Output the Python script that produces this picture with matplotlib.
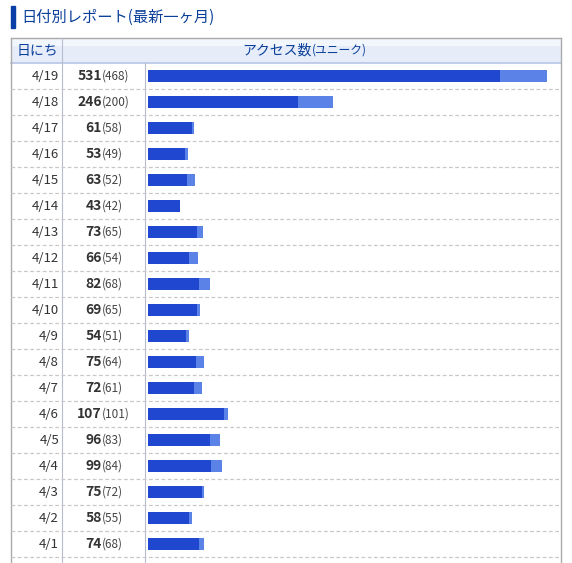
import matplotlib
matplotlib.use("Agg")
import matplotlib.pyplot as plt
from matplotlib.patches import Rectangle

plt.rcParams['font.family'] = ['Noto Sans CJK JP', 'DejaVu Sans']

dates = ["4/19","4/18","4/17","4/16","4/15","4/14","4/13","4/12","4/11","4/10",
         "4/9","4/8","4/7","4/6","4/5","4/4","4/3","4/2","4/1"]
total = [531,246,61,53,63,43,73,66,82,69,54,75,72,107,96,99,75,58,74]
unique = [468,200,58,49,52,42,65,54,68,65,51,64,61,101,83,84,72,55,68]

W, H = 572, 563
fig = plt.figure(figsize=(W/100, H/100), dpi=100)
ax = fig.add_axes([0, 0, 1, 1])
ax.set_xlim(0, W); ax.set_ylim(H, 0); ax.axis('off')

# title
ax.add_patch(Rectangle((11, 6), 4, 22, color='#0a3fa8'))
ax.text(21, 17, "日付別レポート(最新一ヶ月)", fontsize=11, color='#0a3f9a', va='center')

L, R, top, hb = 11, 561, 38, 63
rowh = 26
n = len(dates)
bottom = hb + n*rowh
# header
ax.add_patch(Rectangle((L, top), R-L, hb-top, facecolor='#e6edf9', edgecolor='none'))
ax.add_patch(Rectangle((L, top), R-L, 8, facecolor='#f2f6fd', edgecolor='none'))
ax.plot([L, R], [hb, hb], color='#b8c6e6', lw=1.2)
ax.plot([L, R, R], [bottom+10, top, top][::-1][::-1] if False else [top, top, top], color='#aaaaaa', lw=1)
ax.plot([L, L], [top, H], color='#aaaaaa', lw=1)
ax.plot([R, R], [top, H], color='#aaaaaa', lw=1)
ax.plot([62, 62], [top, H], color='#b8bcd0', lw=0.8)
ax.plot([145, 145], [hb, H], color='#b8bcd0', lw=0.8)
ax.text(37, 50.5, "日にち", fontsize=10, color='#0a3f9a', ha='center', va='center')
ax.text(312, 50.5, "アクセス数", fontsize=10, color='#0a3f9a', ha='right', va='center')
ax.text(312, 50.5, "(ユニーク)", fontsize=8.5, color='#0a3f9a', ha='left', va='center')

for i, (d, t, u) in enumerate(zip(dates, total, unique)):
    yc = hb + i*rowh + rowh/2
    ax.text(59, yc, d, fontsize=9.5, color='#333333', ha='right', va='center')
    ax.text(102, yc, str(t), fontsize=10, fontweight='bold', color='#333333', ha='right', va='center')
    ax.text(102, yc, f"({u})", fontsize=8.5, color='#444444', ha='left', va='center')
    yl = hb + (i+1)*rowh
    ax.plot([L, R], [yl, yl], color='#c8c8c8', lw=0.9, ls=(0, (3, 2)))

# bars
bx0, bx1 = 148, 547
bax = fig.add_axes([bx0/W, 1-bottom/H, (bx1-bx0)/W, (bottom-hb)/H])
bax.set_xlim(0, max(total)); bax.set_ylim(n-0.5, -0.5); bax.axis('off')
ys = list(range(n))
bax.barh(ys, total, height=0.46, color='#5b82e6', left=0)
bax.barh(ys, unique, height=0.46, color='#1f47d0', left=0)

fig.savefig("out.png", dpi=100)
